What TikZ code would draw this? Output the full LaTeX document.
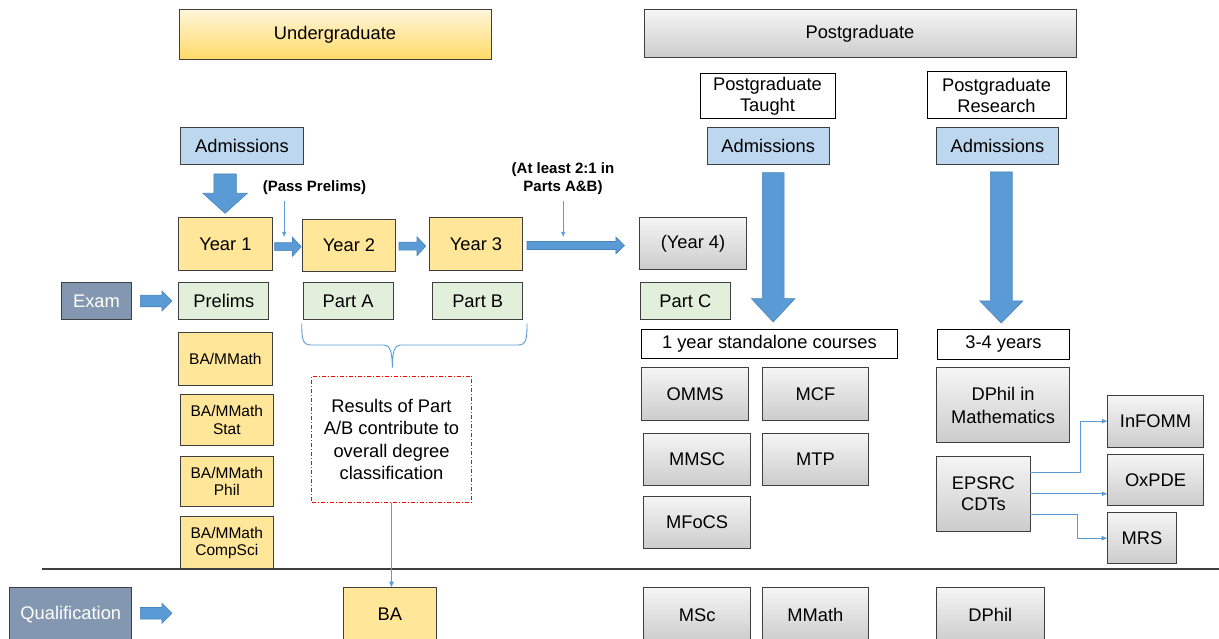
\documentclass[tikz,border=0pt]{standalone}
\usepackage{fontspec}
\setmainfont{Liberation Sans}
\usetikzlibrary{arrows.meta}

\definecolor{ugyellow}{HTML}{FFE699}
\definecolor{ugtop}{HTML}{FFF5D9}
\definecolor{ugbottom}{HTML}{FFD966}
\definecolor{admblue}{HTML}{BDD7EE}
\definecolor{partgreen}{HTML}{E2EFDA}
\definecolor{slate}{HTML}{8497B0}
\definecolor{greytop}{HTML}{F5F5F5}
\definecolor{greybottom}{HTML}{CCCCCC}
\definecolor{arrowblue}{HTML}{5B9BD5}
\definecolor{arrowedge}{HTML}{4A84BD}
\definecolor{boxedge}{HTML}{3F3F3F}

% horizontal block arrow: x-start, x-tip, y, half shaft, half head, head length
\newcommand{\hblockarrow}[6]{%
  \filldraw[blockarrow] ({#1},{#3-#4}) -- ({#2-#6},{#3-#4}) -- ({#2-#6},{#3-#5})
    -- ({#2},{#3}) -- ({#2-#6},{#3+#5}) -- ({#2-#6},{#3+#4}) -- ({#1},{#3+#4}) -- cycle;}
% vertical block arrow: x-centre, half shaft, half head, y-top, y-head, y-tip
\newcommand{\vblockarrow}[6]{%
  \filldraw[blockarrow] ({#1-#2},{#4}) -- ({#1+#2},{#4}) -- ({#1+#2},{#5})
    -- ({#1+#3},{#5}) -- ({#1},{#6}) -- ({#1-#3},{#5}) -- ({#1-#2},{#5}) -- cycle;}

\begin{document}
\begin{tikzpicture}[x=1pt,y=-1pt,
  every node/.style={font=\fontsize{18.3}{21.5}\selectfont, inner sep=0pt, outer sep=0pt, align=center},
  box/.style={draw=boxedge, line width=1pt},
  ugbox/.style={box, fill=ugyellow},
  header/.style={box, top color=ugtop, bottom color=ugbottom},
  pghead/.style={box, top color=greytop, bottom color=greybottom},
  greybox/.style={box, top color=greytop, bottom color=greybottom},
  admbox/.style={box, fill=admblue},
  partbox/.style={box, fill=partgreen},
  plainbox/.style={draw=black, line width=1pt, fill=white},
  sidebox/.style={box, fill=slate, text=white},
  degbox/.style={box, fill=ugyellow, font=\fontsize{15.5}{17.5}\selectfont},
  note/.style={font=\bfseries\fontsize{15}{18.3}\selectfont},
  resultbox/.style={draw=red, line width=0.9pt, dash pattern=on 4pt off 2pt on 1pt off 2pt, fill=white},
  blockarrow/.style={fill=arrowblue, draw=arrowedge, line width=0.6pt},
  conn/.style={draw=arrowblue, line width=0.9pt, -{Latex[length=6pt,width=5pt]}},
]
\useasboundingbox (0,0) rectangle (1219,639);
\fill[white] (0,0) rectangle (1219,639);
\clip (0,0) rectangle (1219,639);

% section headers
\node[header, minimum width=312, minimum height=50] (ug) at (335,35) {Undergraduate};
\node[pghead, minimum width=432, minimum height=48] (pg) at (860,34) {Postgraduate};
\node[plainbox, minimum width=135, minimum height=45] (pgt) at (767.5,96.5) {Postgraduate\\Taught};
\node[plainbox, minimum width=139, minimum height=47] (pgr) at (996.5,95.5) {Postgraduate\\Research};

% admissions
\node[admbox, minimum width=122.6, minimum height=37.7] (admug) at (242,146) {Admissions};
\node[admbox, minimum width=122.4, minimum height=37.7] (admpgt) at (768.2,146) {Admissions};
\node[admbox, minimum width=122.3, minimum height=37.7] (admpgr) at (997.5,146) {Admissions};

% years of study
\node[ugbox, minimum width=93.3, minimum height=52.3] (y1) at (225.4,243.9) {Year 1};
\node[ugbox, minimum width=93.3, minimum height=52.4] (y2) at (349,245.5) {Year 2};
\node[ugbox, minimum width=93, minimum height=52.3] (y3) at (476,243.9) {Year 3};
\node[greybox, minimum width=107, minimum height=52] (y4) at (693,243.3) {(Year 4)};

% examinations
\node[sidebox, minimum width=70.3, minimum height=36.3] (exam) at (96.5,300.9) {Exam};
\node[partbox, minimum width=90.1, minimum height=36.3] (prelims) at (223.8,300.9) {Prelims};
\node[partbox, minimum width=89.8, minimum height=36.3] (parta) at (348.1,300.9) {Part A};
\node[partbox, minimum width=89.7, minimum height=36.3] (partb) at (477.7,300.9) {Part B};
\node[partbox, minimum width=90, minimum height=36.3] (partc) at (685.3,300.9) {Part C};

% progression notes
\node[note] (passnote) at (314.5,187.7) {(Pass Prelims)};
\node[note] (twoone) at (563,178.5) {(At least 2:1 in\\Parts A\&B)};
\coordinate (ppa) at (284.2,201);
\coordinate (ppb) at (284.2,237);
\coordinate (tta) at (563.2,201);
\coordinate (ttb) at (563.2,237);
\draw[conn, line width=0.7pt, -{Latex[length=5pt,width=4.5pt]}] (ppa) -- (ppb);
\draw[conn, line width=0.7pt, -{Latex[length=5pt,width=4.5pt]}] (tta) -- (ttb);

% undergraduate degree courses
\node[degbox, minimum width=93.3, minimum height=52.7] (bamm) at (225.4,358.7) {BA/MMath};
\node[degbox, minimum width=92.9, minimum height=51] (bastat) at (226.8,419.8) {BA/MMath\\Stat};
\node[degbox, minimum width=92.9, minimum height=50] (baphil) at (226.8,481.3) {BA/MMath\\Phil};
\node[degbox, minimum width=92.9, minimum height=52.6] (bacs) at (226.8,543) {BA/MMath\\CompSci};

% classification note
\node[resultbox, minimum width=159.7, minimum height=126.7, font=\fontsize{18.3}{22.2}\selectfont] (results) at (391.5,439.4)
  {Results of Part\\A/B contribute to\\overall degree\\classification};
\draw[arrowblue, line width=0.9pt] (301.7,323.3) .. controls (301.7,340) and (303,345) .. (311,345)
  -- (384,345) .. controls (390,345) and (392.3,352) .. (392.3,367.7)
  .. controls (392.3,352) and (394.5,345) .. (400.5,345)
  -- (518,345) .. controls (526,345) and (527,340) .. (527,323.3);

% postgraduate courses
\node[plainbox, minimum width=255.8, minimum height=29] (oneyear) at (769.4,343.8) {1 year standalone courses};
\node[plainbox, minimum width=132.6, minimum height=29.7] (threefour) at (1003.5,344.2) {3-4 years};
\node[greybox, minimum width=107.3, minimum height=52.3] (omms) at (695.2,393.9) {OMMS};
\node[greybox, minimum width=106.2, minimum height=52.3] (mcf) at (815.4,393.9) {MCF};
\node[greybox, minimum width=106.6, minimum height=52] (mmsc) at (697.1,459) {MMSC};
\node[greybox, minimum width=106.2, minimum height=52] (mtp) at (815.4,459) {MTP};
\node[greybox, minimum width=106.6, minimum height=52.7] (mfocs) at (697.1,522.4) {MFoCS};
\node[greybox, minimum width=133.4, minimum height=75, font=\fontsize{18.3}{23}\selectfont] (dphilm) at (1003.1,405.2) {DPhil in\\Mathematics};
\node[greybox, minimum width=93.9, minimum height=75] (epsrc) at (983.4,493.8) {EPSRC\\CDTs};
\node[greybox, minimum width=95.5, minimum height=51.7] (infomm) at (1155.5,421.2) {InFOMM};
\node[greybox, minimum width=95.5, minimum height=50.6] (oxpde) at (1155.5,480) {OxPDE};
\node[greybox, minimum width=68.7, minimum height=51] (mrs) at (1142,538.2) {MRS};

\coordinate (k1) at (1080,472.3);
\coordinate (k3) at (1077.7,514.3);
\draw[conn] (epsrc.east |- k1) -- (k1) |- (infomm.west);
\draw[conn] (epsrc.east) -- (epsrc.east -| oxpde.west);
\draw[conn] (epsrc.east |- k3) -- (k3) |- (mrs.west);

% separator between study and qualification
\draw[draw=boxedge, line width=1.2pt] (42,569) -- (1219,569);

% qualifications
\node[sidebox, minimum width=121.8, minimum height=54] (qual) at (70.8,614.7) {Qualification};
\node[ugbox, minimum width=93.3, minimum height=54] (ba) at (389.9,614.7) {BA};
\node[greybox, minimum width=106.6, minimum height=54] (msc) at (697.1,614.7) {MSc};
\node[greybox, minimum width=106.2, minimum height=54] (mmath) at (815.4,614.7) {MMath};
\node[greybox, minimum width=107.7, minimum height=54] (dphil) at (990.3,614.7) {DPhil};

\draw[conn] (results.south) -- (results.south |- ba.north);

% block arrows
\vblockarrow{225.1}{11.3}{22.2}{174}{193.3}{213.3}
\vblockarrow{773.2}{10.9}{21.7}{172.7}{298.7}{322}
\vblockarrow{1001.3}{10.9}{21.5}{172}{301}{323}
\hblockarrow{274.7}{301.2}{246.7}{4}{9.5}{8.7}
\hblockarrow{399}{425.7}{246.2}{4}{9.5}{8.7}
\hblockarrow{527}{624.5}{245.5}{4}{8.5}{8.7}
\hblockarrow{140.3}{172}{301}{5.8}{10}{10}
\hblockarrow{140.4}{172}{613.3}{5.8}{10}{10}
\end{tikzpicture}
\end{document}
